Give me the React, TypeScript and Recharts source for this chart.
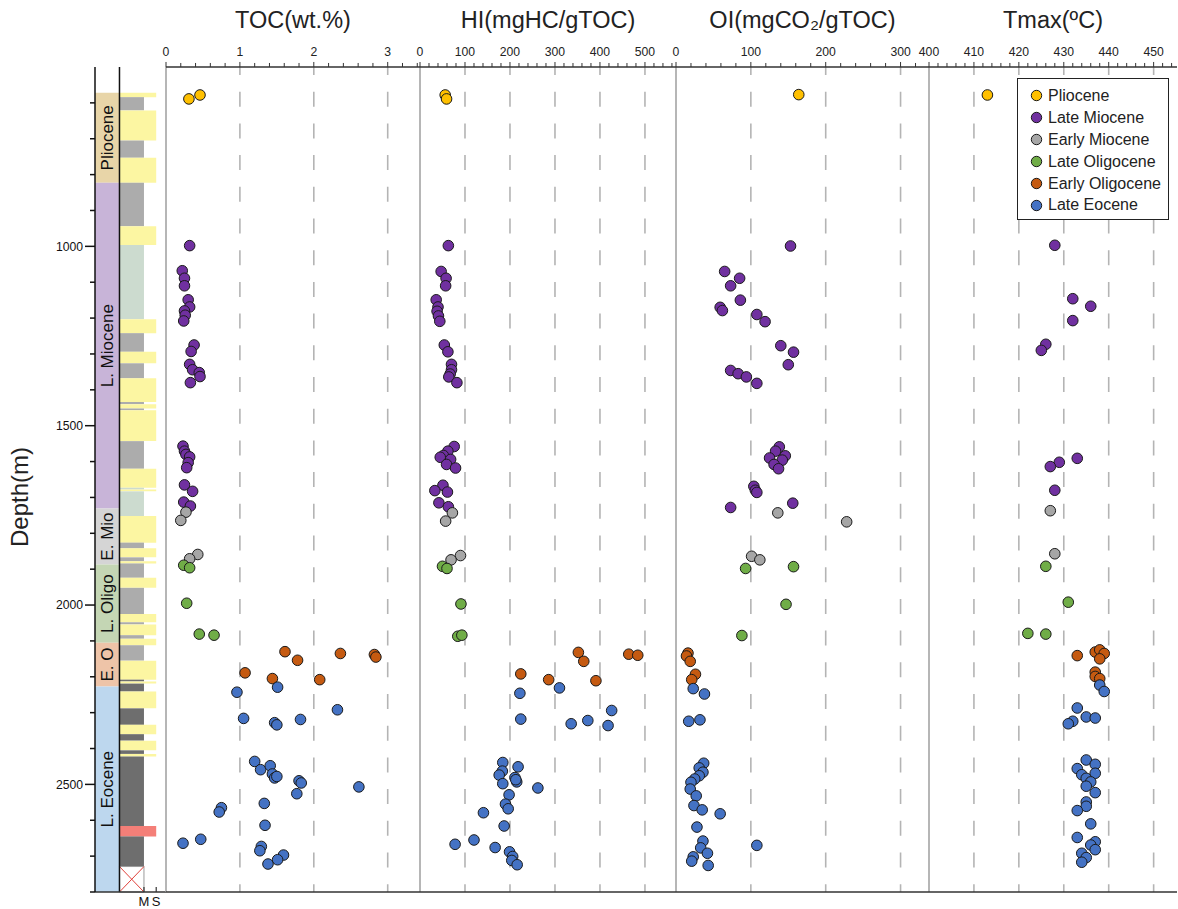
import React from "react";
import { ScatterChart, Scatter, XAxis, YAxis, ReferenceLine, ReferenceArea, Legend, Label } from "recharts";

const FONT = '"Liberation Sans", Arial, Helvetica, sans-serif';

const GROUPS = ["Pliocene", "Late Miocene", "Early Miocene", "Late Oligocene", "Early Oligocene", "Late Eocene"];
const GROUP_COLORS = ["#FFC000", "#7030A0", "#A6A6A6", "#70AD47", "#C55A11", "#4472C4"];

const TOC_TICKS = [0, 1, 2, 3];
const HI_TICKS = [0, 100, 200, 300, 400, 500];
const OI_TICKS = [0, 100, 200, 300];
const TMAX_TICKS = [400, 410, 420, 430, 440, 450];
const DEPTH_TICKS = [1000, 1500, 2000, 2500];
const COLUMN_TICKS = ["M", "S"];

const STAGE_NAMES = ["Pliocene", "L. Miocene", "E. Mio", "L. Oligo", "E. O", "L. Eocene"];
const STAGE_TOPS = [572, 823, 1731, 1887, 2105, 2227];
const STAGE_BASES = [823, 1731, 1887, 2105, 2227, 2800];
const STAGE_COLORS = ["#E8D5A8", "#C8B4D8", "#D5D5D5", "#C4D6B4", "#EEC4A8", "#BDD7EE"];

// lithology intervals: [top, base, code]  S sand, M mud, G grey-green mud, D dark mud, R red bed, X no recovery
const LITHO: [number, number, string][] = [
  [572, 584, "S"], [584, 621, "M"], [621, 705, "S"], [705, 753, "M"], [753, 823, "S"],
  [823, 944, "M"], [944, 996, "S"], [996, 1203, "G"], [1203, 1242, "S"], [1242, 1294, "M"],
  [1294, 1326, "S"], [1326, 1368, "M"], [1368, 1434, "S"], [1434, 1440, "M"], [1440, 1452, "S"],
  [1452, 1457, "M"], [1457, 1543, "S"], [1543, 1620, "M"], [1620, 1673, "S"], [1673, 1678, "G"],
  [1678, 1683, "S"], [1683, 1752, "G"], [1752, 1826, "S"], [1826, 1842, "M"], [1842, 1867, "S"],
  [1867, 1878, "M"], [1878, 1884, "S"], [1884, 1924, "M"], [1924, 1952, "S"], [1952, 2025, "M"],
  [2025, 2048, "S"], [2048, 2054, "M"], [2054, 2084, "S"], [2084, 2094, "M"], [2094, 2112, "S"],
  [2112, 2155, "M"], [2155, 2208, "S"], [2208, 2213, "D"], [2213, 2219, "S"], [2219, 2241, "D"],
  [2241, 2288, "S"], [2288, 2334, "D"], [2334, 2360, "S"], [2360, 2378, "D"], [2378, 2405, "S"],
  [2405, 2415, "D"], [2415, 2422, "S"], [2422, 2616, "D"], [2616, 2645, "R"], [2645, 2729, "D"],
  [2729, 2800, "X"],
];

// [group, depth m, value]
const TOC_DATA: [number, number, number][] = [
  [0, 578, 0.46], [0, 589, 0.31],
  [1, 998, 0.32], [1, 1068, 0.22], [1, 1089, 0.25], [1, 1110, 0.25], [1, 1149, 0.3], [1, 1169, 0.32],
  [1, 1180, 0.25], [1, 1192, 0.26], [1, 1208, 0.24], [1, 1275, 0.38], [1, 1293, 0.34], [1, 1329, 0.32],
  [1, 1344, 0.36], [1, 1352, 0.45], [1, 1363, 0.46], [1, 1380, 0.33], [1, 1557, 0.23], [1, 1571, 0.25],
  [1, 1580, 0.27], [1, 1587, 0.32], [1, 1603, 0.3], [1, 1617, 0.28], [1, 1665, 0.25], [1, 1683, 0.36],
  [1, 1713, 0.24], [1, 1724, 0.33],
  [2, 1741, 0.27], [2, 1764, 0.2], [2, 1859, 0.43], [2, 1871, 0.32],
  [3, 1889, 0.24], [3, 1896, 0.32], [3, 1995, 0.28], [3, 2081, 0.45], [3, 2084, 0.65],
  [4, 2130, 1.61], [4, 2154, 1.78], [4, 2135, 2.36], [4, 2138, 2.82], [4, 2145, 2.84], [4, 2189, 1.07],
  [4, 2205, 1.44], [4, 2208, 2.08],
  [5, 2229, 1.51], [5, 2243, 0.96], [5, 2292, 2.32], [5, 2316, 1.05], [5, 2328, 1.47], [5, 2334, 1.5],
  [5, 2319, 1.82], [5, 2436, 1.2], [5, 2459, 1.28], [5, 2448, 1.41], [5, 2471, 1.44], [5, 2482, 1.47],
  [5, 2478, 1.5], [5, 2490, 1.8], [5, 2496, 1.83], [5, 2526, 1.77], [5, 2507, 2.61], [5, 2553, 1.33],
  [5, 2565, 0.75], [5, 2577, 0.72], [5, 2614, 1.34], [5, 2664, 0.23], [5, 2653, 0.47], [5, 2673, 1.29],
  [5, 2685, 1.27], [5, 2697, 1.59], [5, 2710, 1.51], [5, 2722, 1.38],
];

const HI_DATA: [number, number, number][] = [
  [0, 578, 56], [0, 589, 59],
  [1, 998, 63], [1, 1070, 47], [1, 1089, 58], [1, 1110, 57], [1, 1149, 36], [1, 1169, 40], [1, 1181, 38],
  [1, 1194, 41], [1, 1209, 44], [1, 1275, 54], [1, 1294, 62], [1, 1329, 70], [1, 1344, 70], [1, 1356, 67],
  [1, 1364, 64], [1, 1380, 82], [1, 1558, 76], [1, 1571, 62], [1, 1583, 52], [1, 1588, 45], [1, 1594, 68],
  [1, 1608, 59], [1, 1618, 79], [1, 1666, 51], [1, 1681, 33], [1, 1685, 61], [1, 1715, 42], [1, 1726, 63],
  [2, 1743, 72], [2, 1766, 57], [2, 1862, 90], [2, 1874, 69],
  [3, 1892, 50], [3, 1898, 60], [3, 1997, 91], [3, 2087, 84], [3, 2084, 93],
  [4, 2132, 352], [4, 2157, 364], [4, 2137, 464], [4, 2140, 484], [4, 2192, 224], [4, 2208, 286], [4, 2211, 391],
  [5, 2231, 310], [5, 2246, 222], [5, 2294, 426], [5, 2318, 224], [5, 2331, 336], [5, 2322, 373], [5, 2336, 418],
  [5, 2439, 184], [5, 2451, 218], [5, 2463, 183], [5, 2474, 176], [5, 2481, 211], [5, 2493, 215], [5, 2487, 213],
  [5, 2498, 184], [5, 2510, 262], [5, 2529, 198], [5, 2555, 190], [5, 2568, 196], [5, 2579, 141], [5, 2616, 187],
  [5, 2667, 78], [5, 2655, 120], [5, 2676, 167], [5, 2688, 199], [5, 2701, 206], [5, 2712, 204], [5, 2724, 216],
];

const OI_DATA: [number, number, number][] = [
  [0, 577, 164],
  [1, 999, 153], [1, 1070, 65], [1, 1089, 85], [1, 1110, 73], [1, 1150, 86], [1, 1170, 59], [1, 1179, 62],
  [1, 1190, 108], [1, 1210, 119], [1, 1277, 140], [1, 1295, 157], [1, 1330, 150], [1, 1346, 73], [1, 1355, 83],
  [1, 1364, 94], [1, 1382, 108], [1, 1559, 138], [1, 1571, 133], [1, 1584, 146], [1, 1590, 125], [1, 1596, 142],
  [1, 1608, 131], [1, 1620, 137], [1, 1669, 104], [1, 1680, 106], [1, 1686, 108], [1, 1728, 73], [1, 1716, 156],
  [2, 1743, 136], [2, 1768, 228], [2, 1864, 101], [2, 1874, 112],
  [3, 1898, 93], [3, 1893, 157], [3, 1998, 147], [3, 2085, 88],
  [4, 2134, 16], [4, 2142, 14], [4, 2157, 19], [4, 2193, 26], [4, 2208, 21],
  [5, 2233, 23], [5, 2248, 38], [5, 2324, 17], [5, 2320, 32], [5, 2441, 37], [5, 2454, 31], [5, 2466, 36],
  [5, 2476, 31], [5, 2485, 25], [5, 2494, 20], [5, 2513, 19], [5, 2532, 27], [5, 2559, 24], [5, 2571, 35],
  [5, 2582, 59], [5, 2619, 28], [5, 2658, 36], [5, 2677, 33], [5, 2670, 108], [5, 2692, 42], [5, 2702, 23],
  [5, 2714, 21], [5, 2726, 43],
];

const TMAX_DATA: [number, number, number][] = [
  [0, 578, 413],
  [1, 997, 428], [1, 1146, 432], [1, 1167, 436], [1, 1207, 432], [1, 1273, 426], [1, 1290, 425],
  [1, 1591, 433], [1, 1602, 429], [1, 1614, 427], [1, 1680, 428],
  [2, 1737, 427], [2, 1857, 428],
  [3, 1892, 426], [3, 1992, 431], [3, 2079, 422], [3, 2081, 426],
  [4, 2141, 433], [4, 2131, 437], [4, 2125, 438], [4, 2135, 439], [4, 2150, 438], [4, 2187, 437],
  [4, 2199, 437], [4, 2205, 438],
  [5, 2223, 438], [5, 2241, 439], [5, 2287, 433], [5, 2312, 435], [5, 2315, 437], [5, 2324, 432],
  [5, 2331, 431], [5, 2432, 435], [5, 2444, 437], [5, 2456, 433], [5, 2469, 437], [5, 2473, 434],
  [5, 2483, 435], [5, 2493, 436], [5, 2505, 435], [5, 2523, 437], [5, 2549, 435], [5, 2561, 435],
  [5, 2573, 433], [5, 2610, 436], [5, 2648, 433], [5, 2660, 437], [5, 2669, 436], [5, 2682, 437],
  [5, 2692, 434], [5, 2704, 435], [5, 2717, 434],
];

// layout (page px)
const TOP = 67;
const BOTTOM = 892;
const H = 909;
const EDGES = [166, 420, 676, 929, 1177];
const RIGHT_X = 160;
const THIN = 0.01; // axes need a non-zero height to render; keep them all on one line

const LITHO_STYLE: Record<string, { fill: string; x2: number }> = {
  S: { fill: "#FCF6A2", x2: 2.5 },
  M: { fill: "#ACACAC", x2: 2 },
  G: { fill: "#CCDBCF", x2: 2 },
  D: { fill: "#6E6E6E", x2: 2 },
  R: { fill: "#F47F78", x2: 2.5 },
  X: { fill: "#FFFFFF", x2: 2 },
};

function steps(from: number, to: number, step: number) {
  const out: number[] = [];
  const n = Math.round((to - from) / step);
  for (let i = 0; i <= n; i++) out.push(+(from + i * step).toFixed(6));
  return out;
}

const PANELS = [
  { id: "toc", title: "TOC(wt.%)", domain: [0, 3.437], majors: TOC_TICKS, ticks: steps(0, 3.4, 0.2), data: TOC_DATA },
  { id: "hi", title: "HI(mgHC/gTOC)", domain: [0, 569], majors: HI_TICKS, ticks: steps(0, 560, 20), data: HI_DATA },
  { id: "oi", title: "OI(mgCO\u2082/gTOC)", domain: [0, 338], majors: OI_TICKS, ticks: steps(0, 320, 20), data: OI_DATA },
  { id: "tmax", title: "Tmax(\u00baC)", domain: [400, 455.2], majors: TMAX_TICKS, ticks: steps(400, 454, 2), data: TMAX_DATA },
];

function topTick(props: any, majors: number[]) {
  const { x, y, payload } = props;
  const v = payload.value;
  const major = majors.some((m) => Math.abs(m - v) < 1e-6);
  return (
    <g>
      <line x1={x} x2={x} y1={y} y2={y - (major ? 5 : 4)} stroke="#333" strokeWidth={1} />
      {major && (
        <text x={x} y={y - 11} textAnchor="middle" fontSize={12.2} fill="#222" fontFamily={FONT}>
          {Math.round(v)}
        </text>
      )}
    </g>
  );
}

function depthTick(props: any) {
  const { x, y, payload } = props;
  const v = payload.value;
  const major = DEPTH_TICKS.includes(v);
  return (
    <g>
      <line x1={x} x2={x - (major ? 10 : 5)} y1={y} y2={y} stroke="#111" strokeWidth={1.5} />
      {major && (
        <text x={x - 12} y={y} dy="0.36em" textAnchor="end" fontSize={12.2} fill="#111" fontFamily={FONT}>
          {v}
        </text>
      )}
    </g>
  );
}

function colTick(props: any) {
  const { x, y, index } = props;
  return (
    <g>
      <line x1={x} x2={x} y1={y} y2={y - 5} stroke="#333" strokeWidth={1.2} />
      <text x={x} y={y + 14} textAnchor="middle" fontSize={13} fill="#111" fontFamily={FONT}>
        {COLUMN_TICKS[index]}
      </text>
    </g>
  );
}

function LegendBox() {
  return (
    <div
      style={{
        width: 152,
        height: 142,
        border: "1.3px solid #222",
        background: "#fff",
        boxSizing: "border-box",
        padding: "6px 0 0 12px",
        fontFamily: FONT,
        fontSize: 16,
        color: "#222",
      }}
    >
      {GROUPS.map((g, i) => (
        <div key={g} style={{ display: "flex", alignItems: "center", height: 21.9 }}>
          <svg width={13} height={13} style={{ marginRight: 5 }}>
            <circle cx={6.5} cy={6.5} r={5.2} fill={GROUP_COLORS[i]} stroke="#1a1a1a" strokeWidth={1} />
          </svg>
          <span>{g}</span>
        </div>
      ))}
    </div>
  );
}

export default function App() {
  return (
    <div style={{ position: "absolute", left: 0, top: 0, width: 1178, height: H, background: "#fff" }}>
      {/* stratigraphic column + depth axis */}
      <div style={{ position: "absolute", left: 0, top: 0 }}>
        <ScatterChart width={166} height={H} margin={{ top: TOP, right: 0, bottom: H - BOTTOM - THIN, left: 0 }}>
          <XAxis
            xAxisId="col"
            type="number"
            dataKey="v"
            domain={[0, 2.9]}
            allowDataOverflow
            orientation="bottom"
            height={THIN}
            ticks={[2, 2.5]}
            interval={0}
            tickSize={0}
            tickMargin={0}
            tickLine={false}
            tick={colTick}
            axisLine={{ stroke: "#333", strokeWidth: 1.5 }}
          />
          <YAxis
            type="number"
            dataKey="d"
            domain={[500, 2800]}
            allowDataOverflow
            reversed
            width={95}
            ticks={steps(600, 2800, 100)}
            interval={0}
            tickSize={0}
            tickMargin={0}
            tickLine={false}
            tick={depthTick}
            axisLine={{ stroke: "#111", strokeWidth: 1.5 }}
          >
            <Label
              content={() => (
                <text
                  x={28}
                  y={497}
                  transform="rotate(-90 28 497)"
                  textAnchor="middle"
                  fontSize={24}
                  fill="#222"
                  fontFamily={FONT}
                >
                  Depth(m)
                </text>
              )}
            />
          </YAxis>
          {STAGE_NAMES.map((name, i) => (
            <ReferenceArea
              key={name}
              xAxisId="col"
              x1={0}
              x2={1}
              y1={STAGE_TOPS[i]}
              y2={STAGE_BASES[i]}
              fill={STAGE_COLORS[i]}
              fillOpacity={1}
              stroke="none"
              label={{ value: name, angle: -90, position: "center", fontSize: 17, fill: "#111", fontFamily: FONT }}
            />
          ))}
          {LITHO.map(([top, base, code], i) => (
            <ReferenceArea
              key={"l" + i}
              xAxisId="col"
              x1={1}
              x2={LITHO_STYLE[code].x2}
              y1={top}
              y2={base}
              fill={LITHO_STYLE[code].fill}
              fillOpacity={1}
              stroke={code === "X" ? "#9a9a9a" : "none"}
            />
          ))}
          <ReferenceLine xAxisId="col" segment={[{ x: 1, y: 2729 }, { x: 2, y: 2800 }]} stroke="#E0403A" strokeWidth={1} />
          <ReferenceLine xAxisId="col" segment={[{ x: 1, y: 2800 }, { x: 2, y: 2729 }]} stroke="#E0403A" strokeWidth={1} />
          <ReferenceLine xAxisId="col" x={1} stroke="#111" strokeWidth={1.5} />
        </ScatterChart>
      </div>

      {/* geochemistry panels */}
      <div style={{ position: "absolute", left: RIGHT_X, top: 0 }}>
        <ScatterChart
          width={1178 - RIGHT_X}
          height={H}
          margin={{ top: TOP - PANELS.length * THIN, right: 1178 - EDGES[4], bottom: H - BOTTOM, left: EDGES[0] - RIGHT_X }}
        >
          <YAxis yAxisId={0} type="number" dataKey="d" domain={[500, 2800]} allowDataOverflow reversed hide />
          {PANELS.map((p, i) => (
            <XAxis
              key={p.id}
              xAxisId={p.id}
              type="number"
              dataKey="v"
              orientation="top"
              height={THIN}
              domain={p.domain}
              allowDataOverflow
              padding={{ left: EDGES[i] - EDGES[0], right: EDGES[4] - EDGES[i + 1] }}
              ticks={p.ticks}
              interval={0}
              tickSize={0}
              tickMargin={0}
              tickLine={false}
              tick={(props: any) => topTick(props, p.majors)}
              axisLine={i === 0 ? { stroke: "#333", strokeWidth: 1.5 } : false}
            >
              <Label
                content={() => (
                  <text
                    x={(EDGES[i] + EDGES[i + 1]) / 2 - RIGHT_X}
                    y={28}
                    textAnchor="middle"
                    fontSize={23.5}
                    fill="#222"
                    fontFamily={FONT}
                  >
                    {p.title}
                  </text>
                )}
              />
            </XAxis>
          ))}
          {PANELS.map((p) =>
            p.majors
              .filter((m) => m !== p.domain[0])
              .map((m) => (
                <ReferenceLine
                  key={p.id + "g" + m}
                  xAxisId={p.id}
                  x={m}
                  stroke="#B4B4B4"
                  strokeWidth={1.6}
                  strokeDasharray="15 16.7"
                  strokeDashoffset={7}
                />
              ))
          )}
          {PANELS.map((p) => (
            <ReferenceLine key={p.id + "edge"} xAxisId={p.id} x={p.domain[0]} stroke="#9E9E9E" strokeWidth={1.5} />
          ))}
          <ReferenceLine xAxisId="toc" y={2800} stroke="#333" strokeWidth={1.5} />
          {PANELS.map((p) =>
            GROUPS.map((g, gi) => (
              <Scatter
                key={p.id + gi}
                xAxisId={p.id}
                name={g}
                data={p.data.filter((r) => r[0] === gi).map((r) => ({ d: r[1], v: r[2] }))}
                isAnimationActive={false}
                shape={(s: any) => (
                  <circle cx={s.cx} cy={s.cy} r={5.3} fill={GROUP_COLORS[gi]} stroke="#1a1a1a" strokeWidth={1} />
                )}
              />
            ))
          )}
          <Legend
            layout="vertical"
            align="center"
            verticalAlign="middle"
            content={() => <LegendBox />}
            wrapperStyle={{ left: 1017 - RIGHT_X, top: 78, width: 152, height: 142 }}
          />
        </ScatterChart>
      </div>
    </div>
  );
}
